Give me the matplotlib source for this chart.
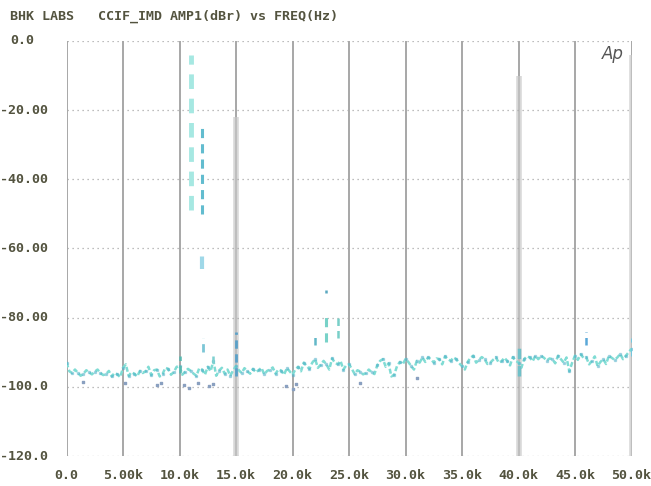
import matplotlib
matplotlib.use("Agg")
import matplotlib.pyplot as plt

# Sweep data: CCIF IMD spectrum, 11 kHz + 12 kHz twin-tone
# Readings on the 500 Hz grid
grid_khz = [i * 0.5 for i in range(101)]
grid_dbr = [
    -93.0, -96.0, -95.9, -96.2, -95.8, -95.6, -96.0, -96.3, -97.0, -96.4,
    -94.5, -96.8, -96.2, -95.4, -95.5, -96.6, -95.0, -96.3, -94.8, -95.7,
    -94.0, -95.6, -95.4, -96.8, -95.0, -94.2, -92.5, -95.3, -96.2, -96.8,
    -94.0, -96.0, -95.5, -94.8, -95.2, -96.4, -95.0, -96.2, -95.3, -94.6,
    -96.5, -94.2, -93.0, -94.8, -92.0, -93.6, -93.5, -91.8, -93.5, -95.0,
    -93.5, -96.3, -95.6, -96.0, -95.8, -93.8, -92.0, -93.2, -96.5, -92.8,
    -92.0, -94.0, -92.5, -91.5, -91.5, -93.0, -92.0, -91.2, -92.5, -92.0,
    -94.0, -92.8, -91.0, -92.2, -92.0, -93.0, -91.5, -92.6, -92.5, -91.4,
    -93.0, -92.0, -91.5, -91.0, -91.0, -92.4, -92.0, -91.0, -93.0, -95.5,
    -91.0, -90.6, -91.5, -92.5, -94.0, -92.0, -91.0, -92.2, -90.5, -91.0,
    -89.0,
]
# Readings halfway between the grid points
mid_khz = [0.25 + i * 0.5 for i in range(100)]
mid_dbr = [
    -95.5, -95.0, -96.8, -95.2, -96.4, -95.0, -96.6, -95.4, -96.0, -97.2,
    -93.5, -95.8, -97.0, -96.0, -94.2, -95.2, -97.0, -94.5, -96.5, -94.2,
    -96.5, -94.8, -96.2, -94.6, -96.5, -95.5, -96.8, -94.5, -95.0, -95.2,
    -95.2, -94.6, -96.2, -95.8, -94.5, -95.4, -94.4, -95.0, -96.5, -95.5,
    -95.0, -95.5, -94.0, -93.0, -94.5, -92.5, -95.0, -93.0, -92.5, -93.8,
    -94.8, -95.2, -96.4, -95.0, -96.3, -92.5, -94.2, -97.0, -94.0, -93.5,
    -92.8, -95.0, -93.0, -92.8, -92.0, -91.8, -93.5, -92.0, -91.5, -93.2,
    -95.0, -91.6, -93.0, -91.4, -93.4, -92.2, -93.0, -91.6, -93.8, -92.4,
    -94.5, -91.2, -92.6, -92.0, -91.6, -91.8, -93.2, -92.0, -91.5, -93.0,
    -92.2, -91.6, -93.5, -91.2, -92.8, -93.4, -91.6, -91.5, -92.0, -90.0,
]

# Tones and distortion products (vertical streaks): frequency, top, bottom
spur_khz = [11.0, 12.0, 12.0, 12.1, 13.0, 22.0, 23.0, 23.0, 24.0, 46.0, 50.0,
            15.0, 10.0, 40.0]
spur_top = [-4.0, -24.0, -61.0, -86.0, -91.0, -85.0, -72.0, -79.0, -80.0, -84.0, -86.0,
            -84.0, -91.0, -88.0]
spur_bot = [-49.0, -50.0, -66.0, -90.0, -93.0, -88.0, -73.0, -87.0, -86.0, -88.0, -91.0,
            -97.0, -96.0, -97.0]
spur_col = ["#a6e8e2", "#62bccf", "#9fd8e8", "#7cc6d6", "#7fd0d0", "#62b8c8",
            "#5aa8c0", "#78d2c8", "#78cfc8", "#5aa8d8", "#6cc8e0",
            "#5aa0c8", "#58b8b0", "#70c0c8"]
spur_lw = [3.5, 2.2, 3.0, 2.0, 1.8, 1.8, 1.8, 2.2, 1.8, 1.8, 2.0, 2.0, 1.8, 2.5]

# Low excursions of the trace
dip_khz = [1.5, 5.2, 8.0, 8.4, 10.4, 10.8, 11.6, 12.6, 13.0, 19.4, 20.0, 20.3, 26.0, 31.0]
dip_dbr = [-98.5, -99.0, -99.5, -98.8, -99.5, -100.2, -99.0, -99.8, -99.3,
           -99.8, -100.5, -99.2, -98.8, -97.5]

x_ticks = [0, 5, 10, 15, 20, 25, 30, 35, 40, 45, 50]
x_labels = ["0.0", "5.00k", "10.0k", "15.0k", "20.0k", "25.0k",
            "30.0k", "35.0k", "40.0k", "45.0k", "50.0k"]
y_ticks = [0, -20, -40, -60, -80, -100, -120]
y_labels = ["0.0", "-20.00", "-40.00", "-60.00", "-80.00", "-100.0", "-120.0"]

title = "BHK LABS   CCIF_IMD AMP1(dBr) vs FREQ(Hz)"

# Merge both reading sets into one frequency-ordered trace
trace = sorted(zip(grid_khz + mid_khz, grid_dbr + mid_dbr))
trace_khz = [p[0] for p in trace]
trace_dbr = [p[1] for p in trace]

W, H = 651, 486
fig = plt.figure(figsize=(W / 100, H / 100), dpi=100)
fig.patch.set_facecolor("white")
ax = fig.add_axes([66.5 / W, 30 / H, 565 / W, 415 / H])
ax.set_xlim(0, 50)
ax.set_ylim(-120, 0)
for s in ax.spines.values():
    s.set_visible(False)
ax.set_xticks([])
ax.set_yticks([])

txt_col = "#53533f"
mono = dict(family="DejaVu Sans Mono", fontweight="bold", fontsize=9.6, color=txt_col)

# Grid: solid vertical lines, dotted horizontal lines
for xv in x_ticks:
    ax.axvline(xv, color="#a0a0a0", lw=1.3, zorder=1)
for xv, y0 in [(15, -22), (40, -10), (50, -4)]:
    ax.plot([xv, xv], [y0, -120], color="#c8c8c8", lw=4.0, alpha=0.7,
            solid_capstyle="butt", zorder=1)
for yv in y_ticks:
    ax.axhline(yv, color="#a8a8a8", lw=0.9, dashes=(1, 3), zorder=1)

# Noise floor trace
ax.plot(trace_khz, trace_dbr, color="#80dcd4", lw=1.8, dashes=(2.0, 1.0), zorder=3)
ax.plot(grid_khz, grid_dbr, color="#4fb0c8", lw=0, marker="s", ms=1.4,
        alpha=0.45, zorder=3)
ax.scatter(dip_khz, dip_dbr, s=3, marker="s", color="#8aa0c0", zorder=3)

# Tones and IMD products
for f, t, b, c, w in zip(spur_khz, spur_top, spur_bot, spur_col, spur_lw):
    ax.plot([f, f], [b, t], color=c, lw=w, dashes=(3, 2), zorder=4)

# Tick labels
for xv, lab in zip(x_ticks, x_labels):
    ax.text(xv, -125.5, lab, ha="center", va="center", **mono)
for yv, lab in zip(y_ticks, y_labels):
    if yv == 0:
        fig.text(10 / W, 1 - 40 / H, lab, ha="left", va="center", **mono)
    else:
        ax.text(-1.65, yv, lab, ha="right", va="center", **mono)

fig.text(10 / W, 1 - 16 / H, title, ha="left", va="center", **mono)
fig.text(602 / W, 1 - 54 / H, "Ap", ha="left", va="center", fontsize=12,
         style="italic", color="#555555", family="DejaVu Sans")

fig.savefig("out.png", dpi=100, facecolor="white")
